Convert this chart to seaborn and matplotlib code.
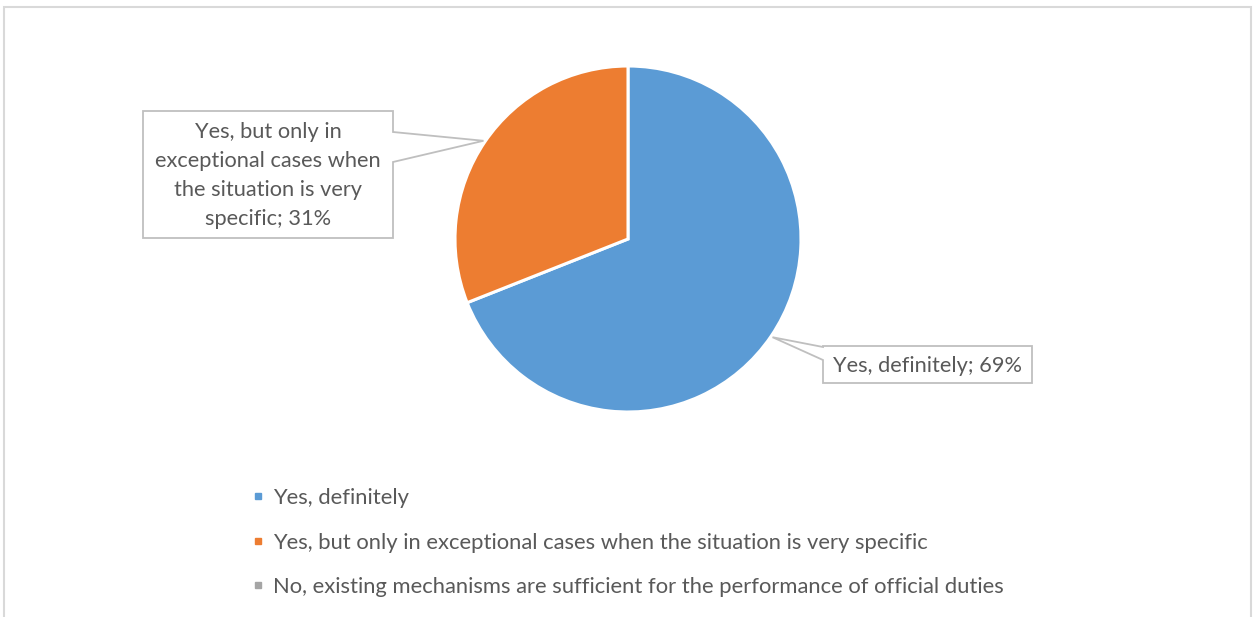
import matplotlib
matplotlib.use("Agg")
import matplotlib.pyplot as plt
import seaborn as sns
import numpy as np
from matplotlib.patches import Polygon, Rectangle
from matplotlib.lines import Line2D

# Survey answers and their shares (%)
categories = [
    "Yes, definitely",
    "Yes, but only in exceptional cases when the situation is very specific",
    "No, existing mechanisms are sufficient for the performance of official duties",
]
shares = [69, 31, 0]
callout_texts = [
    "Yes, definitely; 69%",
    "Yes, but only in\nexceptional cases when\nthe situation is very\nspecific; 31%",
]
colors = ["#5B9BD5", "#ED7D31", "#A5A5A5"]

sns.set_theme(style="white")
plt.rcParams["font.family"] = ["Lato", "DejaVu Sans"]
TEXT = "#595959"
EDGE = "#BFBFBF"

W, H = 1257, 617
fig = plt.figure(figsize=(W / 100, H / 100), dpi=100)
ax = fig.add_axes([0, 0, 1, 1])


def Y(py):
    # pixel row (from top) -> data y
    return H - py


# chart frame
ax.add_patch(Rectangle((3.5, Y(640)), 1247.5, 640 - 6.5, fill=False,
                       edgecolor="#D9D9D9", linewidth=1.5, zorder=0))

center = (628, Y(239))
radius = 173
drawn = [(s, c) for s, c in zip(shares, colors) if s > 0]
wedges, _ = ax.pie([s for s, _ in drawn], colors=[c for _, c in drawn],
                   startangle=90, counterclock=False, center=center,
                   radius=radius, normalize=True,
                   wedgeprops=dict(edgecolor="white", linewidth=2.2))


def tip_of(w):
    mid = np.deg2rad((w.theta1 + w.theta2) / 2)
    r = radius * 1.01
    return center[0] + r * np.cos(mid), center[1] + r * np.sin(mid)


# callout for the orange slice (box on the left, pointer on its right side)
tx, ty = tip_of(wedges[1])
x0, x1, y0, y1 = 143, 393, 111, 238
pts = [(x0, Y(y0)), (x1, Y(y0)), (x1, Y(132)), (tx, ty), (x1, Y(162)),
       (x1, Y(y1)), (x0, Y(y1))]
ax.add_patch(Polygon(pts, closed=True, facecolor="white", edgecolor=EDGE,
                     linewidth=1.3, zorder=3))
ax.text((x0 + x1) / 2, Y((y0 + y1) / 2 + 1), callout_texts[1], ha="center",
        va="center", fontsize=15.7, color=TEXT, linespacing=1.58, zorder=4)

# callout for the blue slice (box on the right, pointer on its left side)
tx, ty = tip_of(wedges[0])
x0, x1, y0, y1 = 823, 1032, 346, 383
pts = [(x0, Y(y0)), (x1, Y(y0)), (x1, Y(y1)), (x0, Y(y1)), (x0, Y(360)),
       (tx, ty), (x0, Y(y0 + 1))]
ax.add_patch(Polygon(pts, closed=True, facecolor="white", edgecolor=EDGE,
                     linewidth=1.3, zorder=3))
ax.text((x0 + x1) / 2, Y((y0 + y1) / 2 + 1), callout_texts[0], ha="center",
        va="center", fontsize=15.7, color=TEXT, zorder=4)

# legend listing every answer, including the empty one
handles = [Line2D([], [], linestyle="none", marker="s", markersize=5,
                  markerfacecolor=c, markeredgecolor=c) for c in colors]
ax.legend(handles, categories, loc="upper left",
          bbox_to_anchor=(242 / W, 1 - 477 / H), bbox_transform=fig.transFigure,
          frameon=False, fontsize=15.8, labelcolor=TEXT, labelspacing=1.12,
          handlelength=0.5, handletextpad=0.4, borderpad=0)

ax.set_xlim(0, W)
ax.set_ylim(0, H)
ax.set_aspect("equal")
ax.axis("off")
fig.savefig("out.png", dpi=100, facecolor="white")
